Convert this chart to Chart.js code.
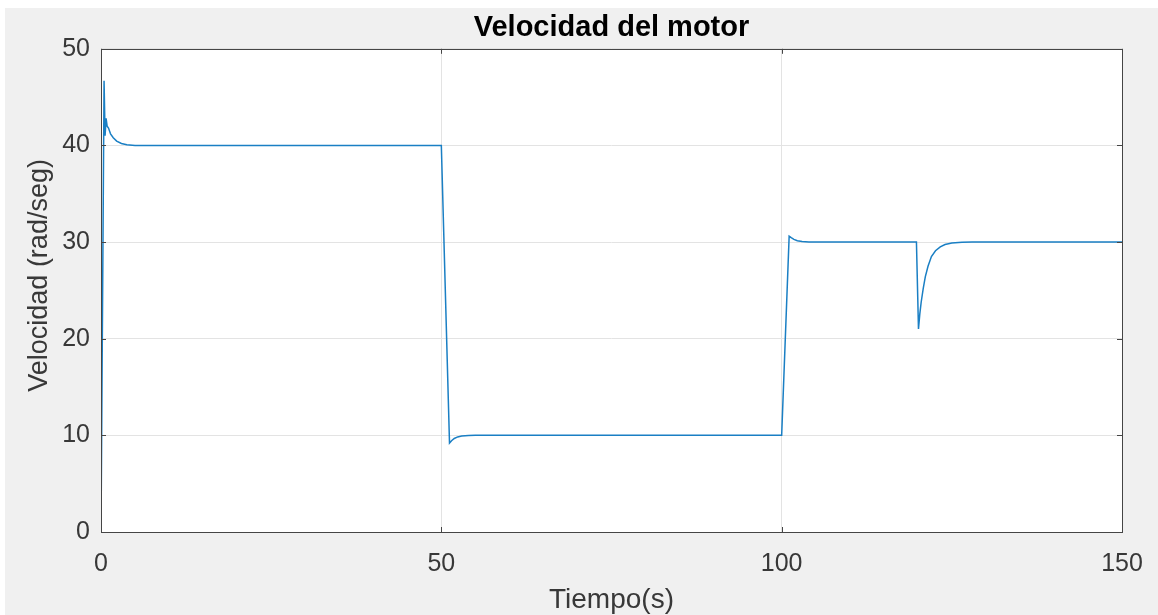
<!DOCTYPE html>
<html>
<head>
<meta charset="utf-8">
<script src="https://cdn.jsdelivr.net/npm/chart.js@4.4.1/dist/chart.umd.min.js"></script>
<style>
  html, body { margin: 0; padding: 0; background: #ffffff; }
  #wrap { position: absolute; left: 5px; top: 8px; width: 1153px; height: 607px; background: #f0f0f0; }
  #myChart { display: block; }
</style>
</head>
<body>
<div id="wrap"><canvas id="myChart" width="1153" height="607"></canvas></div>
<script>
// tiempo (s) y velocidad (rad/seg)
const tiempo = [0, 0.45, 0.6, 0.75, 0.9, 1.1, 1.4, 1.8, 2.3, 3, 3.8, 5,
  50, 51.2, 51.5, 51.9, 52.4, 53, 54, 55,
  100, 101.1, 101.4, 101.8, 102.3, 103, 104,
  119.8, 120.1, 120.3, 120.5, 120.8, 121.1, 121.5, 122, 122.6, 123.3, 124, 125, 126.5, 128, 150];
const velocidad = [0, 46.7, 41.0, 42.8, 42.0, 41.8, 41.2, 40.8, 40.45, 40.2, 40.08, 40,
  40, 9.2, 9.45, 9.68, 9.84, 9.93, 9.98, 10,
  10, 30.6, 30.45, 30.28, 30.14, 30.05, 30,
  30, 21.0, 22.6, 23.8, 25.2, 26.4, 27.5, 28.5, 29.1, 29.5, 29.75, 29.9, 29.98, 30, 30];
const xTicks = [0, 50, 100, 150];
const yTicks = [0, 10, 20, 30, 40, 50];

const puntos = tiempo.map((t, i) => ({ x: t, y: velocidad[i] }));

const fontName = "'Liberation Sans', Arial, sans-serif";

// fondo blanco del area de grafica, caja y marcas hacia adentro (estilo MATLAB)
const ejesMatlab = {
  id: "ejesMatlab",
  beforeDraw(chart) {
    const a = chart.chartArea;
    const ctx = chart.ctx;
    ctx.save();
    ctx.fillStyle = "#ffffff";
    ctx.fillRect(a.left, a.top, a.right - a.left, a.bottom - a.top);
    ctx.restore();
  },
  afterDraw(chart) {
    const a = chart.chartArea;
    const ctx = chart.ctx;
    const xs = chart.scales.x;
    const ys = chart.scales.y;
    ctx.save();
    ctx.strokeStyle = "#454545";
    ctx.lineWidth = 1;
    ctx.beginPath();
    xTicks.forEach((v) => {
      const px = Math.round(xs.getPixelForValue(v)) + 0.5;
      ctx.moveTo(px, a.bottom); ctx.lineTo(px, a.bottom - 5);
      ctx.moveTo(px, a.top); ctx.lineTo(px, a.top + 5);
    });
    yTicks.forEach((v) => {
      const py = Math.round(ys.getPixelForValue(v)) + 0.5;
      ctx.moveTo(a.left, py); ctx.lineTo(a.left + 5, py);
      ctx.moveTo(a.right, py); ctx.lineTo(a.right - 5, py);
    });
    ctx.stroke();
    ctx.strokeRect(Math.round(a.left) + 0.5, Math.round(a.top) + 0.5,
      Math.round(a.right - a.left), Math.round(a.bottom - a.top));
    ctx.restore();
  },
};

const chart = new Chart(document.getElementById("myChart"), {
  type: "line",
  data: {
    datasets: [
      {
        label: "Velocidad",
        data: puntos,
        borderColor: "#1a7fc4",
        borderWidth: 1.5,
        pointRadius: 0,
        tension: 0,
        fill: false,
      },
    ],
  },
  options: {
    responsive: false,
    animation: false,
    devicePixelRatio: 1,
    layout: { padding: { top: 0, right: 36, bottom: 0, left: 0 } },
    scales: {
      x: {
        type: "linear",
        min: 0,
        max: 150,
        afterBuildTicks: (s) => { s.ticks = xTicks.map((v) => ({ value: v })); },
        afterFit: (s) => {
          s.height = 83;
          s.paddingLeft = 0;
          s.paddingRight = 0;
        },
        ticks: { color: "#383838", padding: 17, font: { family: fontName, size: 25 } },
        grid: { color: "#e3e3e3", drawTicks: false },
        border: { display: false },
        title: {
          display: true,
          text: "Tiempo(s)",
          color: "#383838",
          font: { family: fontName, size: 28 },
          padding: { top: 0, bottom: -2 },
        },
      },
      y: {
        min: 0,
        max: 50,
        afterBuildTicks: (s) => { s.ticks = yTicks.map((v) => ({ value: v })); },
        afterFit: (s) => { s.width = 96; },
        ticks: { color: "#383838", padding: 11, font: { family: fontName, size: 25 } },
        grid: { color: "#e3e3e3", drawTicks: false },
        border: { display: false },
        title: {
          display: true,
          // espacios al inicio para subir el texto como en la figura
          text: "    Velocidad (rad/seg)",
          color: "#383838",
          font: { family: fontName, size: 27 },
          padding: { top: 18, bottom: 0 },
        },
      },
    },
    plugins: {
      legend: { display: false },
      tooltip: { enabled: false },
      title: {
        display: true,
        fullSize: false,
        text: "Velocidad del motor",
        color: "#000000",
        font: { family: fontName, size: 29, weight: "bold" },
        padding: { top: 3, bottom: 3 },
      },
    },
  },
  plugins: [ejesMatlab],
});
</script>
</body>
</html>
